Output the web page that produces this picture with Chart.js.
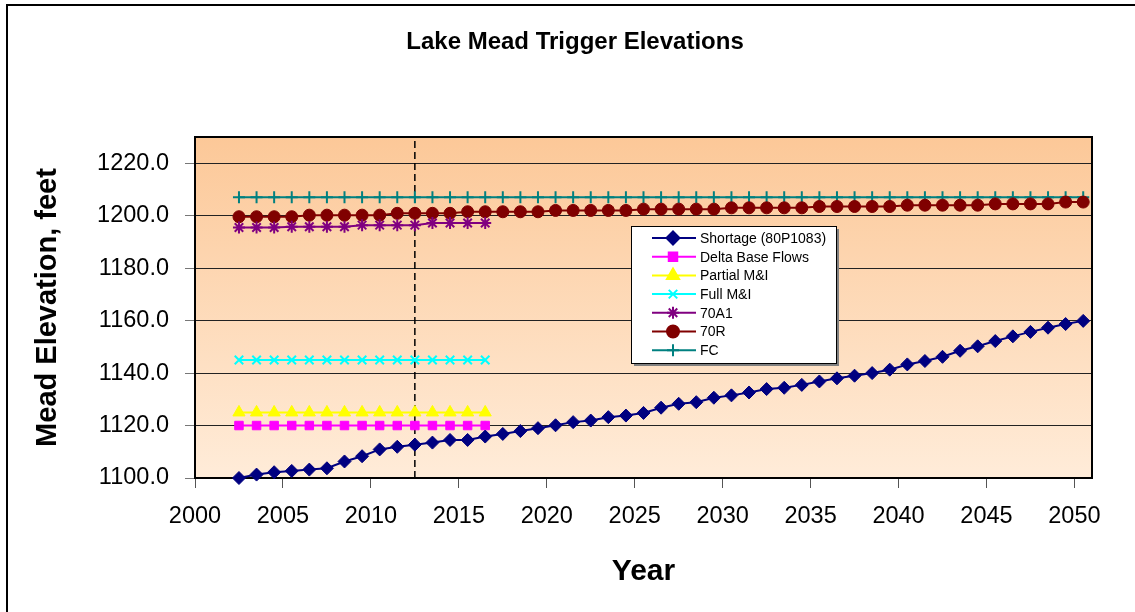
<!DOCTYPE html>
<html>
<head>
<meta charset="utf-8">
<script src="https://cdn.jsdelivr.net/npm/chart.js@4.4.0/dist/chart.umd.min.js"></script>
<style>
html, body { margin: 0; padding: 0; background: #fff; }
#wrap { width: 1135px; height: 612px; position: relative; }
</style>
</head>
<body>
<div id="wrap"><canvas id="meadChart" width="1135" height="612"></canvas></div>
<script>
// Lake Mead trigger elevations
// (points sit half-way between the year ticks, so they are mid-year values)
const chartTitle = "Lake Mead Trigger Elevations";
const years = [2002.5, 2003.5, 2004.5, 2005.5, 2006.5, 2007.5, 2008.5, 2009.5, 2010.5, 2011.5,
               2012.5, 2013.5, 2014.5, 2015.5, 2016.5, 2017.5, 2018.5, 2019.5, 2020.5, 2021.5,
               2022.5, 2023.5, 2024.5, 2025.5, 2026.5, 2027.5, 2028.5, 2029.5, 2030.5, 2031.5,
               2032.5, 2033.5, 2034.5, 2035.5, 2036.5, 2037.5, 2038.5, 2039.5, 2040.5, 2041.5,
               2042.5, 2043.5, 2044.5, 2045.5, 2046.5, 2047.5, 2048.5, 2049.5, 2050.5];

const shortage = [1100.0, 1101.3, 1102.2, 1102.7, 1103.2, 1103.7, 1106.3, 1108.3, 1110.9, 1111.9,
                  1112.7, 1113.5, 1114.5, 1114.5, 1115.8, 1116.8, 1117.9, 1119.0, 1120.1, 1121.3,
                  1121.9, 1123.2, 1123.8, 1124.8, 1126.8, 1128.3, 1128.9, 1130.6, 1131.5, 1132.6,
                  1133.9, 1134.4, 1135.5, 1136.8, 1138.0, 1139.0, 1140.0, 1141.3, 1143.3, 1144.6,
                  1146.2, 1148.5, 1150.2, 1152.2, 1154.0, 1155.7, 1157.3, 1158.7, 1159.9];
const deltaBase = [1120, 1120, 1120, 1120, 1120, 1120, 1120, 1120, 1120, 1120, 1120, 1120, 1120, 1120, 1120];
const partialMI = [1125, 1125, 1125, 1125, 1125, 1125, 1125, 1125, 1125, 1125, 1125, 1125, 1125, 1125, 1125];
const fullMI = [1145, 1145, 1145, 1145, 1145, 1145, 1145, 1145, 1145, 1145, 1145, 1145, 1145, 1145, 1145];
const a70A1 = [1195.5, 1195.5, 1195.5, 1195.8, 1195.8, 1195.8, 1195.8, 1196.4, 1196.4, 1196.4,
               1196.4, 1197.2, 1197.2, 1197.2, 1197.2];
const r70R = [1199.6, 1199.6, 1199.6, 1199.6, 1200.2, 1200.2, 1200.2, 1200.2, 1200.2, 1200.9,
              1200.9, 1200.9, 1200.9, 1201.5, 1201.5, 1201.5, 1201.5, 1201.5, 1202.0, 1202.0,
              1202.0, 1202.0, 1202.0, 1202.5, 1202.5, 1202.5, 1202.5, 1202.5, 1203.0, 1203.0,
              1203.0, 1203.0, 1203.0, 1203.5, 1203.5, 1203.5, 1203.5, 1203.5, 1204.0, 1204.0,
              1204.0, 1204.0, 1204.0, 1204.5, 1204.5, 1204.5, 1204.5, 1205.2, 1205.2];
const fc = [1207, 1207, 1207, 1207, 1207, 1207, 1207, 1207, 1207, 1207,
            1207, 1207, 1207, 1207, 1207, 1207, 1207, 1207, 1207, 1207,
            1207, 1207, 1207, 1207, 1207, 1207, 1207, 1207, 1207, 1207,
            1207, 1207, 1207, 1207, 1207, 1207, 1207, 1207, 1207, 1207,
            1207, 1207, 1207, 1207, 1207, 1207, 1207, 1207, 1207];

const dividerYear = 2012.5;
const xTicks = [2000, 2005, 2010, 2015, 2020, 2025, 2030, 2035, 2040, 2045, 2050];
const yTicks = [1100, 1120, 1140, 1160, 1180, 1200, 1220];

const FONT = "Arial, 'Liberation Sans', sans-serif";

function series(label, values, color, style, radius, pbw) {
    return {
        label: label,
        data: values.map((v, i) => ({ x: years[i], y: v })),
        borderColor: color,
        backgroundColor: color,
        pointStyle: style,
        pointRadius: radius,
        pointHoverRadius: radius,
        pointBorderColor: color,
        pointBackgroundColor: color,
        pointBorderWidth: pbw,
        borderWidth: 2,
        tension: 0,
        clip: false,
    };
}

const datasets = [
    series("Shortage (80P1083)", shortage, "#000080", "rectRot", 6.5, 1),
    series("Delta Base Flows", deltaBase, "#FF00FF", "rect", 6, 1),
    series("Partial M&I", partialMI, "#FFFF00", "triangle", 7, 1),
    series("Full M&I", fullMI, "#00FFFF", "crossRot", 6, 2),
    series("70A1", a70A1, "#800080", "star", 6, 2),
    series("70R", r70R, "#800000", "circle", 6, 1),
    series("FC", fc, "#008080", "cross", 6, 2),
];
// dashed marker line for the current year
datasets.push({
    label: "",
    data: [{ x: dividerYear, y: 1100 }, { x: dividerYear, y: 1230 }],
    borderColor: "#000",
    borderWidth: 1.5,
    borderDash: [7, 4],
    pointRadius: 0,
    hideInLegend: true,
});

const decor = {
    id: "decor",
    beforeDraw(chart) {
        const { ctx, chartArea: a } = chart;
        ctx.save();
        ctx.strokeStyle = "#000";
        ctx.lineWidth = 2;
        ctx.beginPath();
        ctx.moveTo(7, 612);
        ctx.lineTo(7, 5);
        ctx.lineTo(1135, 5);
        ctx.stroke();

        const g = ctx.createLinearGradient(0, a.top, 0, a.bottom);
        g.addColorStop(0, "#FCC898");
        g.addColorStop(1, "#FFECD9");
        ctx.fillStyle = g;
        ctx.fillRect(a.left, a.top, a.width, a.height);

        ctx.fillStyle = "#000";
        ctx.font = "bold 24px " + FONT;
        ctx.textAlign = "center";
        ctx.textBaseline = "middle";
        ctx.fillText(chartTitle, 575, 42);
        ctx.restore();
    },
    beforeDatasetsDraw(chart) {
        const { ctx, chartArea: a } = chart;
        ctx.save();
        ctx.strokeStyle = "#000";
        ctx.lineWidth = 2;
        ctx.strokeRect(a.left, a.top, a.width, a.height);
        ctx.restore();
    },
    afterDatasetsDraw(chart) {
        const ctx = chart.ctx;
        const box = { x: 631, y: 226, w: 205, h: 137 };
        ctx.save();
        ctx.fillStyle = "#808080";
        ctx.fillRect(box.x + 3, box.y + 3, box.w, box.h);
        ctx.fillStyle = "#fff";
        ctx.fillRect(box.x, box.y, box.w, box.h);
        ctx.strokeStyle = "#000";
        ctx.lineWidth = 1;
        ctx.strokeRect(box.x + 0.5, box.y + 0.5, box.w, box.h);

        const items = chart.data.datasets.filter(d => !d.hideInLegend);
        items.forEach((ds, i) => {
            const cy = box.y + 12 + i * 18.7;
            ctx.strokeStyle = ds.borderColor;
            ctx.fillStyle = ds.backgroundColor;
            ctx.lineWidth = 2;
            ctx.beginPath();
            ctx.moveTo(box.x + 21, cy);
            ctx.lineTo(box.x + 65, cy);
            ctx.stroke();
            Chart.helpers.drawPoint(ctx, {
                pointStyle: ds.pointStyle,
                radius: ds.pointRadius,
                borderWidth: ds.pointBorderWidth,
                rotation: 0,
            }, box.x + 42, cy);
            ctx.fillStyle = "#000";
            ctx.font = "14px " + FONT;
            ctx.textAlign = "left";
            ctx.textBaseline = "middle";
            ctx.fillText(ds.label, box.x + 69, cy + 1);
        });
        ctx.restore();
    },
};

new Chart(document.getElementById("meadChart"), {
    type: "line",
    data: { datasets: datasets },
    plugins: [decor],
    options: {
        responsive: false,
        animation: false,
        layout: { padding: { left: 20, top: 137, right: 43, bottom: 10 } },
        scales: {
            x: {
                type: "linear",
                min: 2000,
                max: 2051,
                afterBuildTicks: (scale) => { scale.ticks = xTicks.map(v => ({ value: v })); },
                afterFit: (scale) => { scale.height = 124; },
                grid: { drawOnChartArea: false, drawTicks: true, tickLength: 10, color: "#555" },
                border: { display: true, color: "#000", width: 2 },
                ticks: {
                    padding: 14,
                    maxRotation: 0,
                    color: "#000",
                    font: { family: FONT, size: 23.5 },
                    callback: (v) => String(v),
                },
                title: {
                    display: true,
                    text: "Year",
                    color: "#000",
                    font: { family: FONT, size: 30, weight: "bold" },
                    padding: { top: 0, bottom: 12 },
                },
            },
            y: {
                min: 1100,
                max: 1230,
                afterBuildTicks: (scale) => { scale.ticks = yTicks.map(v => ({ value: v })); },
                afterFit: (scale) => { scale.width = 175; },
                grid: { color: "#222", tickColor: "#777", tickLength: 10 },
                border: { display: true, color: "#000", width: 2 },
                ticks: {
                    padding: 16,
                    color: "#000",
                    font: { family: FONT, size: 23.5 },
                    callback: (v) => v.toFixed(1),
                },
                title: {
                    display: true,
                    text: "Mead Elevation, feet",
                    color: "#000",
                    font: { family: FONT, size: 29, weight: "bold" },
                    padding: { top: 10.6, bottom: 0 },
                },
            },
        },
        plugins: {
            legend: { display: false },
            tooltip: { enabled: false },
        },
    },
});
</script>
</body>
</html>
